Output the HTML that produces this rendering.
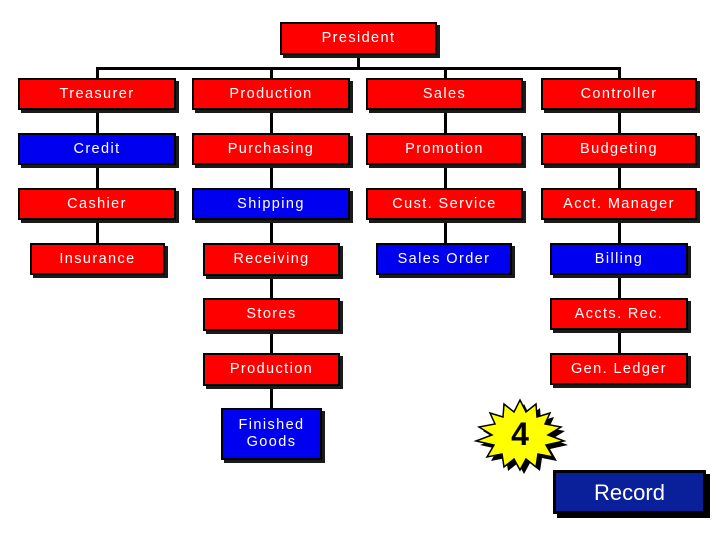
<!DOCTYPE html>
<html><head><style>
body{margin:0;width:720px;height:540px;background:#fff;position:relative;overflow:hidden;font-family:"Liberation Sans",sans-serif}
.b{position:absolute;box-sizing:border-box;border:2px solid #000;box-shadow:3px 3px 0 #1a1a1a;color:#fff;font-size:14.5px;letter-spacing:1.4px;display:flex;align-items:center;justify-content:center;text-align:center;line-height:17px;background:#f00}
.u{background:#0000f0}
.l{position:absolute;background:#000}
</style></head><body>
<div class="l" style="left:357px;top:55px;width:3px;height:15px"></div>
<div class="l" style="left:96px;top:67px;width:525px;height:3px"></div>
<div class="l" style="left:96px;top:67px;width:3px;height:195px"></div>
<div class="l" style="left:270px;top:67px;width:3px;height:350px"></div>
<div class="l" style="left:444px;top:67px;width:3px;height:195px"></div>
<div class="l" style="left:618px;top:67px;width:3px;height:305px"></div>

<div class="b" style="left:280px;top:22px;width:157px;height:33px">President</div>

<div class="b" style="left:18px;top:78px;width:158px;height:32px">Treasurer</div>
<div class="b" style="left:192px;top:78px;width:158px;height:32px">Production</div>
<div class="b" style="left:366px;top:78px;width:157px;height:32px">Sales</div>
<div class="b" style="left:541px;top:78px;width:156px;height:32px">Controller</div>

<div class="b u" style="left:18px;top:133px;width:158px;height:32px">Credit</div>
<div class="b" style="left:192px;top:133px;width:158px;height:32px">Purchasing</div>
<div class="b" style="left:366px;top:133px;width:157px;height:32px">Promotion</div>
<div class="b" style="left:541px;top:133px;width:156px;height:32px">Budgeting</div>

<div class="b" style="left:18px;top:188px;width:158px;height:32px">Cashier</div>
<div class="b u" style="left:192px;top:188px;width:158px;height:32px">Shipping</div>
<div class="b" style="left:366px;top:188px;width:157px;height:32px">Cust. Service</div>
<div class="b" style="left:541px;top:188px;width:156px;height:32px">Acct. Manager</div>

<div class="b" style="left:30px;top:243px;width:135px;height:32px">Insurance</div>
<div class="b" style="left:203px;top:243px;width:137px;height:33px">Receiving</div>
<div class="b u" style="left:376px;top:243px;width:136px;height:32px">Sales Order</div>
<div class="b u" style="left:550px;top:243px;width:138px;height:32px">Billing</div>

<div class="b" style="left:203px;top:298px;width:137px;height:33px">Stores</div>
<div class="b" style="left:550px;top:298px;width:138px;height:32px">Accts. Rec.</div>

<div class="b" style="left:203px;top:353px;width:137px;height:33px">Production</div>
<div class="b" style="left:550px;top:353px;width:138px;height:32px">Gen. Ledger</div>

<div class="b u" style="left:221px;top:408px;width:101px;height:52px">Finished<br>Goods</div>

<svg style="position:absolute;left:470px;top:395px" width="110" height="80" viewBox="0 0 110 80">
<polygon fill="#000" transform="translate(4,4)" points="50,5 56,17 66,9 67,22 80,18 75,29 91,32 78,40 94,46 76,50 83,62 68,59 66,72 56,64 50,75 44,64 34,72 32,59 17,62 24,50 6,46 22,40 9,32 25,29 20,18 33,22 34,9 44,17"/>
<polygon fill="#ffff00" stroke="#000" stroke-width="1.5" points="50,5 56,17 66,9 67,22 80,18 75,29 91,32 78,40 94,46 76,50 83,62 68,59 66,72 56,64 50,75 44,64 34,72 32,59 17,62 24,50 6,46 22,40 9,32 25,29 20,18 33,22 34,9 44,17"/>
<text x="50" y="50" text-anchor="middle" font-family="Liberation Sans" font-weight="bold" font-size="32" fill="#000">4</text>
</svg>

<div class="b" style="left:553px;top:470px;width:153px;height:44px;background:#0a1f9a;border:3px solid #000;box-shadow:4px 4px 0 #000;font-size:22px;letter-spacing:0">Record</div>
</body></html>
